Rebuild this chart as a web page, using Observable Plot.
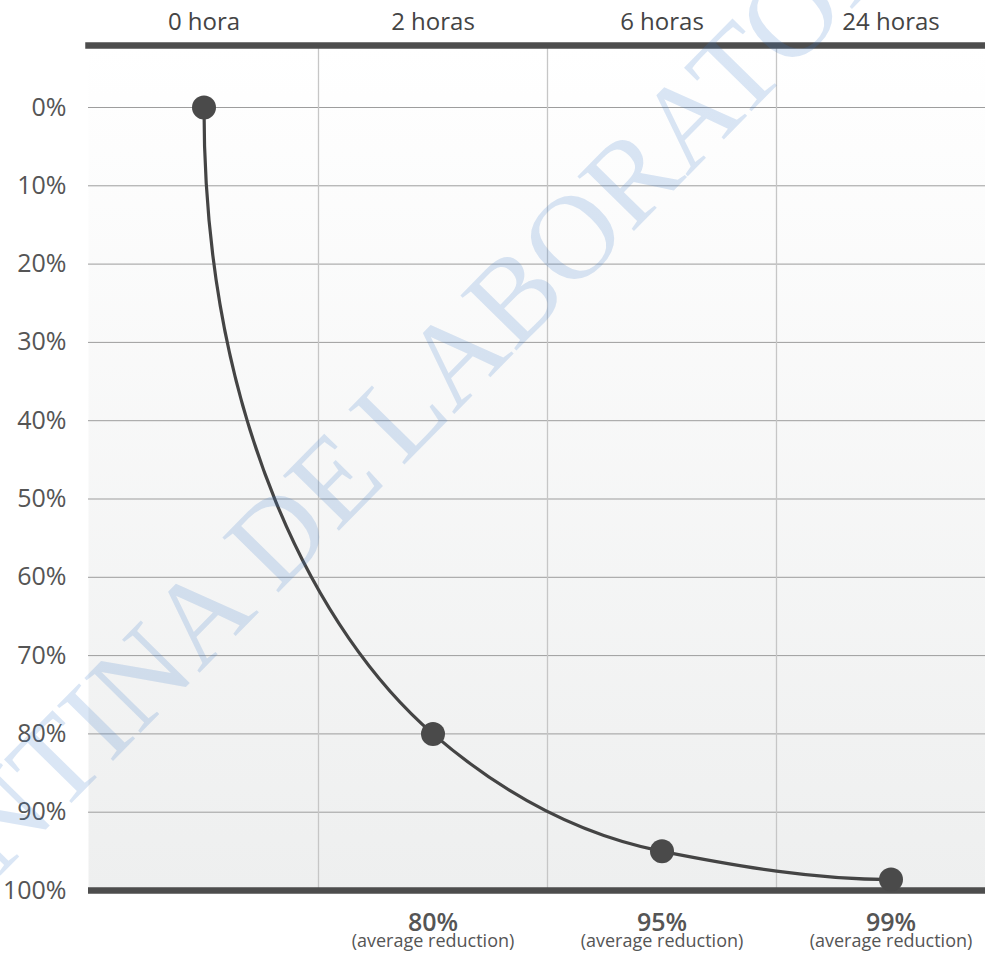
<!DOCTYPE html>
<html>
<head>
<meta charset="utf-8">
<script src="https://cdn.jsdelivr.net/npm/d3@7"></script>
<script src="https://cdn.jsdelivr.net/npm/@observablehq/plot@0.6"></script>
<style>
  html, body { margin: 0; padding: 0; background: #ffffff; overflow: hidden; }
  #chart svg { display: block; }
</style>
</head>
<body>
<div id="chart"></div>
<script>
// ---- data ----
const categories = ["0 hora", "2 horas", "6 horas", "24 horas"];
const reduction = [0, 80, 95, 98.6];            // % reduction (dot positions)
const reductionLabels = ["", "80%", "95%", "99%"];
const reductionNote = "(average reduction)";
const yTicks = [0, 10, 20, 30, 40, 50, 60, 70, 80, 90, 100];
const watermarkLeft = "ARGENTINA DE";
const watermarkRight = "LABORATORIOS";

const data = categories.map((c, i) => ({i, c, v: reduction[i], label: reductionLabels[i]}));
const boundaries = categories.slice(1).map((_, i) => i + 0.5);

// custom curve: vertical start (decay-like), harmonic-mean tangents inside, flat end
function decayCurve(context) {
  let pts = [];
  return {
    areaStart() {}, areaEnd() {},
    lineStart() { pts = []; },
    point(x, y) { pts.push([+x, +y]); },
    lineEnd() {
      const n = pts.length;
      if (!n) return;
      context.moveTo(pts[0][0], pts[0][1]);
      if (n === 1) return;
      const s = [];
      for (let k = 0; k < n - 1; k++) s.push((pts[k + 1][1] - pts[k][1]) / (pts[k + 1][0] - pts[k][0]));
      const m = new Array(n).fill(0);
      for (let k = 1; k < n - 1; k++) {
        m[k] = s[k - 1] * s[k] > 0 ? 2 / (1 / s[k - 1] + 1 / s[k]) : 0;
      }
      m[n - 1] = 0;
      for (let k = 0; k < n - 1; k++) {
        const [x0, y0] = pts[k], [x1, y1] = pts[k + 1];
        const dx = x1 - x0;
        if (k === 0) {
          context.bezierCurveTo(x0, y0 + 0.5 * (y1 - y0), x1 - 0.5 * dx, y1 - 0.5 * dx * m[1], x1, y1);
        } else {
          context.bezierCurveTo(x0 + dx / 3, y0 + dx / 3 * m[k], x1 - dx / 3, y1 - dx / 3 * m[k + 1], x1, y1);
        }
      }
    }
  };
}

const chart = Plot.plot({
  width: 985,
  height: 955,
  marginLeft: 88,
  marginRight: 0,
  marginTop: 45,
  marginBottom: 65,
  x: {domain: [-0.5, categories.length - 0.5], range: [89, 1005], label: null},
  y: {domain: [0, 100], range: [107, 890], label: null},
  style: {fontFamily: "'Open Sans', 'Noto Sans', sans-serif", background: "#ffffff", color: "#555"},
  marks: [
    Plot.frame({fill: "url(#bgGrad)", stroke: "none"}),
    Plot.gridY(yTicks.filter(t => t < 100), {stroke: "#9d9d9d", strokeOpacity: 1, strokeWidth: 1}),
    Plot.gridX(boundaries, {stroke: "#c6c6c6", strokeOpacity: 1, strokeWidth: 1.3}),
    Plot.ruleY([100], {stroke: "#4d4d4d", strokeWidth: 6.5}),
    Plot.frame({anchor: "top", stroke: "#4d4d4d", strokeWidth: 6.5, strokeOpacity: 1}),
    Plot.line(data, {x: "i", y: "v", curve: decayCurve, stroke: "#444", strokeWidth: 3.2}),
    Plot.dot(data, {x: "i", y: "v", r: 12, fill: "#4a4a4a", stroke: "none"}),
    Plot.axisX({anchor: "top", ticks: d3.range(categories.length), tickFormat: i => categories[i],
      tickSize: 0, tickPadding: 16, fontSize: 24, fill: "#444"}),
    Plot.axisY({ticks: yTicks, tickFormat: d => d + "%", tickSize: 0, tickPadding: 22, fontSize: 25, fill: "#555"}),
    Plot.text(data.filter(d => d.label), {x: "i", text: "label", frameAnchor: "bottom", lineAnchor: "bottom", dy: 40,
      fontSize: 25, fontWeight: 600, fill: "#555"}),
    Plot.text(data.filter(d => d.label), {x: "i", text: () => reductionNote, frameAnchor: "bottom", lineAnchor: "bottom", dy: 56,
      fontSize: 18, fill: "#555"})
  ]
});

document.getElementById("chart").appendChild(chart);

const svg = d3.select(chart);
const defs = svg.insert("defs", ":first-child");
const grad = defs.append("linearGradient").attr("id", "bgGrad")
  .attr("x1", 0).attr("y1", 0).attr("x2", 0).attr("y2", 1);
grad.append("stop").attr("offset", "0%").attr("stop-color", "#ffffff");
grad.append("stop").attr("offset", "100%").attr("stop-color", "#eeefef");

// watermark
const angle = -45.5;
const wm = svg.append("g").attr("fill", "#3a7bc8").attr("fill-opacity", 0.19)
  .attr("font-family", "'Liberation Serif', 'DejaVu Serif', serif").attr("font-size", 120);
wm.append("text").attr("transform", `translate(402,467) rotate(${angle})`).attr("text-anchor", "start").text(watermarkRight);
wm.append("text").attr("transform", `translate(388,481) rotate(${angle})`).attr("text-anchor", "end").text(watermarkLeft);
</script>
</body>
</html>
